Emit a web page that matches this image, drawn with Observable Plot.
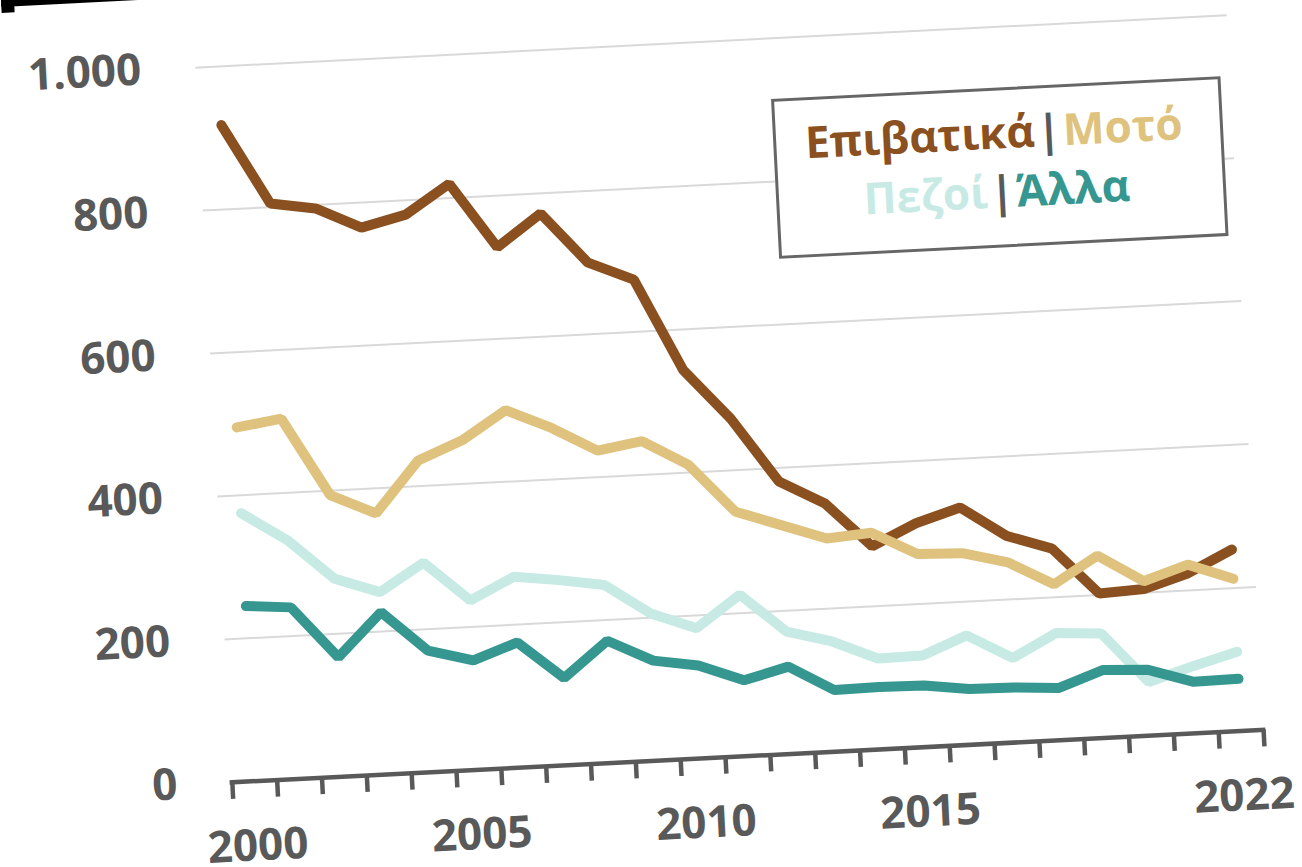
<!DOCTYPE html>
<html>
<head>
<meta charset="utf-8">
<script src="https://cdn.jsdelivr.net/npm/d3@7"></script>
<script src="https://cdn.jsdelivr.net/npm/@observablehq/plot@0.6"></script>
<style>
  html, body { margin: 0; padding: 0; background: #fff; overflow: hidden; width: 1302px; height: 867px; }
  #rot { position: absolute; left: 0; top: 0; width: 1400px; height: 1000px; background: #fff;
         transform-origin: 0 0; transform: rotate(-2.91deg); }
  #chart { position: absolute; left: 0; top: 0; }
  #legend { position: absolute; left: 765px; top: 137.5px; width: 449.5px; height: 160px;
            box-sizing: border-box; border: 3px solid #666; background: #fff; }
  .lg { position: absolute; left: 0; right: 8px; text-align: center; font-family: 'Open Sans', sans-serif;
        font-weight: 700; font-size: 44px; line-height: 60px; white-space: nowrap; }
  .sep { color: #595959; margin: 0 2px; }
  .c1 { position: absolute; left: 1px; top: -14px; width: 420px; height: 20.7px; background: #000; }
  .c2 { position: absolute; left: 1px; top: 0; width: 13px; height: 13.3px; background: #000; }
</style>
</head>
<body>
<div id="rot">
  <div id="chart"></div>
  <div class="c1"></div><div class="c2"></div>
  <div id="legend">
    <div class="lg" style="top:11.5px"><span style="color:#8b5020">Επιβατικά</span><span class="sep">|</span><span style="color:#dfc27d">Μοτό</span></div>
    <div class="lg" style="top:70.9px"><span style="color:#c7eae5">Πεζοί</span><span class="sep">|</span><span style="color:#35978f">Άλλα</span></div>
  </div>
</div>
<script>
const years = [2000,2001,2002,2003,2004,2005,2006,2007,2008,2009,2010,2011,2012,2013,2014,2015,2016,2017,2018,2019,2020,2021,2022];
const epivatika = [918,805,795,765,780,820,728,772,700,673,543,472,381,347,284,313,332,289,268,202,205,224,254];
const moto      = [495,504,394,365,436,461,500,472,437,447,411,342,320,298,303,270,268,252,218,255,216,236,213];
const pezoi     = [375,334,277,255,293,237,267,259,249,206,182,226,171,154,127,128,153,118,150,146,75,94,111];
const alla      = [245,240,167,227,170,153,175,122,171,140,130,106,122,86,87,86,78,77,73,95,92,72,73];
const seriesNames = ["Επιβατικά","Μοτό","Πεζοί","Άλλα"];
const seriesColors = ["#8b5020","#dfc27d","#c7eae5","#35978f"];
const yTicks = [0,200,400,600,800,1000];
const xLabelYears = [2000,2005,2010,2015,2022];

const seriesValues = [epivatika, moto, pezoi, alla];
const table = [];
seriesNames.forEach((s, i) => years.forEach((yr, j) => table.push({series: s, year: yr, value: seriesValues[i][j]})));
const boundaries = years.map(y => y - 0.5).concat([years[years.length - 1] + 0.5]);
const fmt = d3.formatLocale({decimal: ",", thousands: ".", grouping: [3]}).format(",d");

const W = 1302, H = 880;
const chart = Plot.plot({
  width: W, height: H,
  marginLeft: 191.8, marginRight: 77.6, marginTop: 77, marginBottom: H - 792.6,
  style: {fontFamily: "'Open Sans', sans-serif", fontSize: "44px", fontWeight: 700, color: "#595959", background: "transparent"},
  x: {domain: [boundaries[0], boundaries[boundaries.length - 1]], label: null},
  y: {domain: [0, 1000], label: null},
  color: {domain: seriesNames, range: seriesColors},
  marks: [
    Plot.ruleY(yTicks.filter(d => d > 0), {stroke: "#d9d9d9", strokeWidth: 2}),
    Plot.line(table, {x: "year", y: "value", z: "series", stroke: "series", strokeWidth: 10, strokeLinecap: "round", strokeLinejoin: "miter"}),
    Plot.ruleY([0], {stroke: "#595959", strokeWidth: 4.5, strokeLinecap: "square"}),
    Plot.axisX(boundaries, {tickSize: 17, tickFormat: () => "", label: null, stroke: "#595959", strokeWidth: 4.5}),
    Plot.axisX(xLabelYears, {tickSize: 0, tickPadding: 48, label: null, tickFormat: d => String(d), fontSize: 44, fontWeight: 700, fill: "#595959"}),
    Plot.axisY(yTicks, {tickSize: 0, tickPadding: 55, label: null, tickFormat: fmt, fontSize: 44, fontWeight: 700, fill: "#595959"})
  ]
});
document.getElementById("chart").appendChild(chart);
</script>
</body>
</html>
